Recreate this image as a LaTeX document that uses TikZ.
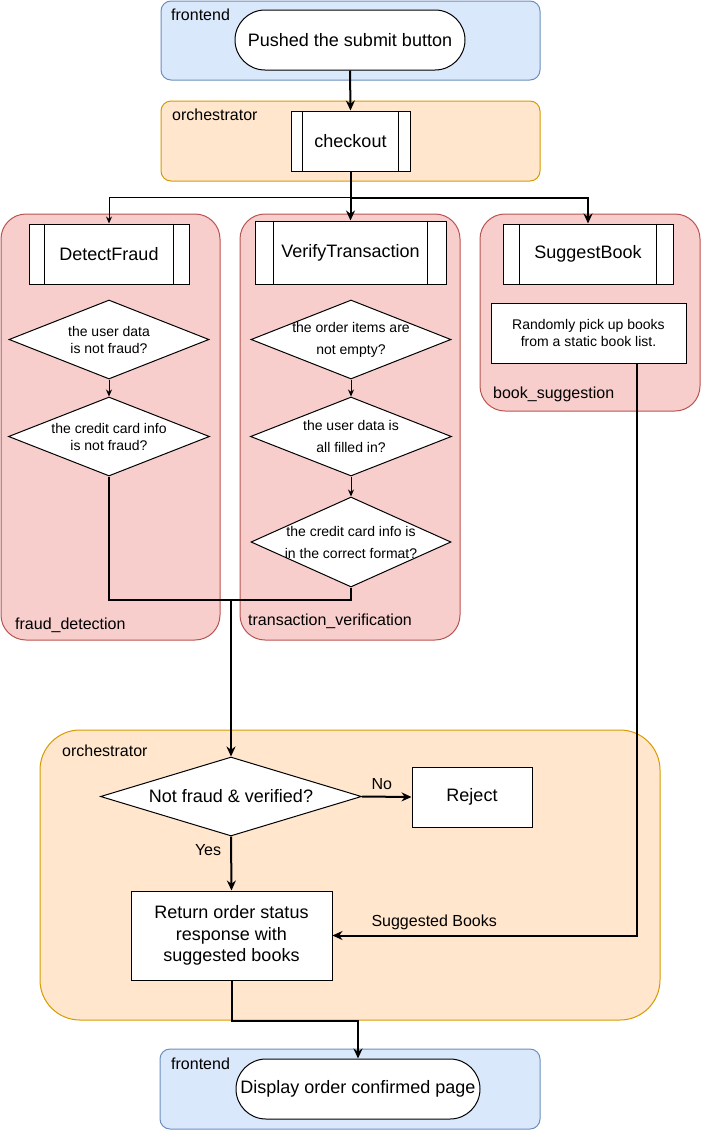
\documentclass[tikz,border=0pt]{standalone}
\usepackage{fontspec}
\setmainfont{Liberation Sans}
\usetikzlibrary{shapes.geometric,arrows.meta}
\definecolor{bluef}{HTML}{DAE8FC}
\definecolor{bluel}{HTML}{6C8EBF}
\definecolor{oraf}{HTML}{FFE6CC}
\definecolor{oral}{HTML}{D79B00}
\definecolor{redf}{HTML}{F8CECC}
\definecolor{redl}{HTML}{B85450}
\tikzset{
  cont/.style={line width=1pt, inner sep=0},
  bluec/.style={cont, fill=bluef, draw=bluel, rounded corners=10pt},
  orac/.style={cont, fill=oraf, draw=oral},
  redc/.style={cont, fill=redf, draw=redl, rounded corners=25pt},
  wbox/.style={draw, fill=white, line width=1pt, inner sep=0, align=center},
  big/.style={font=\fontsize{18}{21.6}\selectfont},
  small/.style={font=\fontsize{14}{16.8}\selectfont},
  dia/.style={draw, fill=white, line width=1pt, diamond, inner sep=0},
  lbl/.style={font=\fontsize{16}{19}\selectfont, inner sep=0, anchor=west},
  conn/.style={line width=2pt},
  thinc/.style={line width=1pt},
  arr/.style={-{Stealth[length=10pt,width=9pt]}},
  tarr/.style={-{Stealth[length=7pt,width=6pt]}},
}
\begin{document}
\begin{tikzpicture}[x=1pt,y=-1pt]
\useasboundingbox (0,0) rectangle (701,1130);

% containers
\node[bluec, minimum width=379, minimum height=79] (fe1) at (350.5,40.5) {};
\node[lbl] (fe1l) at (171,15) {frontend};
\node[orac, rounded corners=10pt, minimum width=379, minimum height=80] (or1) at (350.5,141) {};
\node[lbl] (or1l) at (172,115) {orchestrator};
\node[redc, minimum width=219, minimum height=426] (fd) at (110.5,427) {};
\node[lbl] (fdl) at (15,625) {fraud\_detection};
\node[redc, minimum width=220, minimum height=426] (tv) at (350,427) {};
\node[lbl] (tvl) at (248,621) {transaction\_verification};
\node[redc, minimum width=220, minimum height=197] (bs) at (590,312.5) {};
\node[lbl] (bsl) at (493,394) {book\_suggestion};
\node[orac, rounded corners=40pt, minimum width=620, minimum height=290] (or2) at (350,875) {};
\node[lbl] (or2l) at (62,751) {orchestrator};
\node[bluec, minimum width=380, minimum height=80] (fe2) at (350,1089) {};
\node[lbl] (fe2l) at (171,1064) {frontend};

% top
\node[wbox, big, rounded corners=30pt, minimum width=230, minimum height=60] (push) at (350,40) {Pushed the submit button};
\node[wbox, big, minimum width=119, minimum height=60] (ck) at (350.5,141) {checkout};
\draw[thinc] ([xshift=12pt]ck.north west) -- ([xshift=12pt]ck.south west);
\draw[thinc] ([xshift=-12pt]ck.north east) -- ([xshift=-12pt]ck.south east);

% fraud column
\node[wbox, big, minimum width=160, minimum height=60] (df) at (109,254) {DetectFraud};
\draw[thinc] ([xshift=16pt]df.north west) -- ([xshift=16pt]df.south west);
\draw[thinc] ([xshift=-16pt]df.north east) -- ([xshift=-16pt]df.south east);
\node[dia, minimum width=200, minimum height=79,
  label={[align=center, font=\fontsize{14}{17}\selectfont]center:{the user data\\is not fraud?}}] (fd1) at (109,339.5) {};
\node[dia, minimum width=201, minimum height=79,
  label={[align=center, font=\fontsize{14}{17}\selectfont]center:{the credit card info\\is not fraud?}}] (fd2) at (109,436.5) {};

% verification column
\node[wbox, big, minimum width=191, minimum height=63] (vt) at (350.5,252.5) {VerifyTransaction};
\draw[thinc] ([xshift=19pt]vt.north west) -- ([xshift=19pt]vt.south west);
\draw[thinc] ([xshift=-19pt]vt.north east) -- ([xshift=-19pt]vt.south east);
\node[dia, minimum width=200, minimum height=79,
  label={[align=center, font=\fontsize{14}{22}\selectfont]center:{the order items are\\not empty?}}] (vt1) at (351,339.5) {};
\node[dia, minimum width=201, minimum height=79,
  label={[align=center, font=\fontsize{14}{22}\selectfont]center:{the user data is\\all filled in?}}] (vt2) at (351,436.5) {};
\node[dia, minimum width=200, minimum height=90,
  label={[align=center, font=\fontsize{14}{22}\selectfont]center:{the credit card info is\\in the correct format?}}] (vt3) at (351,542) {};

% suggestion column
\node[wbox, big, minimum width=170, minimum height=60] (sb) at (588,254) {SuggestBook};
\draw[thinc] ([xshift=17pt]sb.north west) -- ([xshift=17pt]sb.south west);
\draw[thinc] ([xshift=-17pt]sb.north east) -- ([xshift=-17pt]sb.south east);
\node[wbox, small, minimum width=195, minimum height=60] (rand) at (588.5,333) {Randomly pick up books\\from a static book list.};

% bottom orchestrator
\node[dia, minimum width=261, minimum height=79,
  label={[big]center:{Not fraud \& verified?}}] (dec) at (231,796.5) {};
\node[wbox, big, minimum width=120, minimum height=60] (rej) at (472,797) {Reject};
\node[wbox, big, minimum width=201, minimum height=89] (ret) at (231.5,935.5) {Return order status\\response with\\suggested books};
\node[wbox, big, rounded corners=30pt, minimum width=244, minimum height=60] (disp) at (358,1089) {Display order confirmed page};

% connectors
\draw[conn, arr] (push.south) -- (ck.north);
\draw[thinc, tarr] (ck.south) -- ++(0,26) -| (df.north);
\draw[conn, arr] (ck.south) -- (vt.north);
\draw[conn, arr] (ck.south) -- ++(0,26) -| (sb.north);
\draw[thinc, tarr] (fd1.south) -- (fd2.north);
\draw[thinc, tarr] (vt1.south) -- (vt2.north);
\draw[thinc, tarr] (vt2.south) -- (vt3.north);
\coordinate (j) at (231,600);
\draw[conn] (fd2.south) |- (j);
\draw[conn] (vt3.south) |- (j);
\draw[conn, arr] (j) -- (dec.north);
\draw[conn, arr] ([xshift=48.5pt]rand.south) |- (ret.east)
  node[pos=0.833, above=5pt, font=\fontsize{16}{19}\selectfont, inner sep=0] (sbl) {Suggested Books};
\draw[conn, arr] (dec.east) -- (rej.west)
  node[pos=0.4, above=6pt, font=\fontsize{16}{19}\selectfont, inner sep=0] (nol) {No};
\draw[conn, arr] (dec.south) -- (ret.north)
  node[pos=0.25, left=9pt, font=\fontsize{16}{19}\selectfont, inner sep=0] (yesl) {Yes};
\draw[conn, arr] (ret.south) -- ++(0,40) -| (disp.north);
\end{tikzpicture}
\end{document}
